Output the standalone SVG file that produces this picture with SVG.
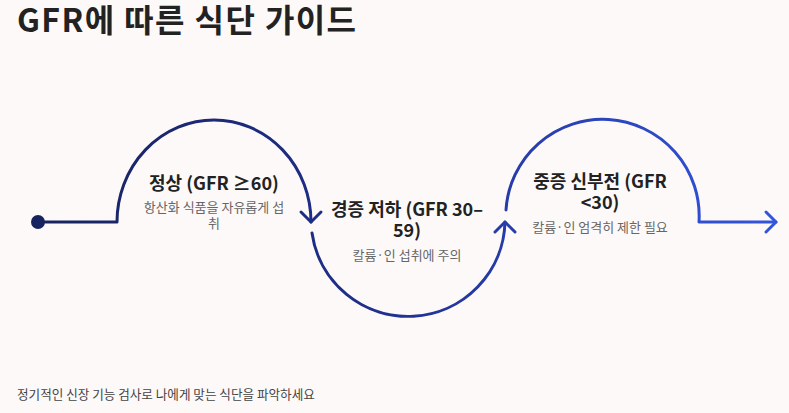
<svg xmlns="http://www.w3.org/2000/svg" width="789" height="413" viewBox="0 0 789 413">
<defs>
<linearGradient id="flow" gradientUnits="userSpaceOnUse" x1="38" y1="0" x2="776" y2="0">
<stop offset="0" stop-color="#17235f"/>
<stop offset="0.45" stop-color="#1f2f8c"/>
<stop offset="1" stop-color="#3355dd"/>
</linearGradient>
<style>
.t{font-family:"Noto Sans CJK KR","Noto Sans",sans-serif;}
.title{font-size:32px;font-weight:700;fill:#222;letter-spacing:1.4px;}
.lbl{font-size:18px;font-weight:700;fill:#222;text-anchor:middle;}
.sub{font-size:13px;fill:#666;text-anchor:middle;}
.foot{font-size:12.6px;fill:#444;}
.ln{fill:none;stroke:url(#flow);stroke-width:3;stroke-linecap:round;stroke-linejoin:round;}
</style>
</defs>
<rect width="789" height="413" fill="#fdf9f8"/>
<text class="t title" x="17" y="32">GFR에 따른 식단 가이드</text>
<g id="connectors">
<circle cx="38" cy="222" r="7" fill="#17235f"/>
<path class="ln" d="M38,222 L117,222 A97,102 0 0 1 311,222"/>
<polyline class="ln" points="301,212 311,222 321,212"/>
<path class="ln" d="M312,233 A97,97 0 0 0 505,222"/>
<polyline class="ln" points="495,232 505,222 515,232"/>
<path class="ln" d="M506,210 A96.5,96.5 0 0 1 699,222 L776,222"/>
<polyline class="ln" points="766,212 776,222 766,232"/>
</g>
<g id="node-normal">
<text class="t lbl" x="214" y="190">정상 (GFR ≥60)</text>
<text class="t sub" x="214" y="212">항산화 식품을 자유롭게 섭</text>
<text class="t sub" x="214" y="228">취</text>
</g>
<g id="node-mild">
<text class="t lbl" x="407" y="216">경증 저하 (GFR 30–</text>
<text class="t lbl" x="407" y="237">59)</text>
<text class="t sub" x="407" y="260">칼륨·인 섭취에 주의</text>
</g>
<g id="node-severe">
<text class="t lbl" x="600" y="188">중증 신부전 (GFR</text>
<text class="t lbl" x="600" y="209">&lt;30)</text>
<text class="t sub" x="600" y="232">칼륨·인 엄격히 제한 필요</text>
</g>
<text class="t foot" x="17" y="399">정기적인 신장 기능 검사로 나에게 맞는 식단을 파악하세요</text>
</svg>
